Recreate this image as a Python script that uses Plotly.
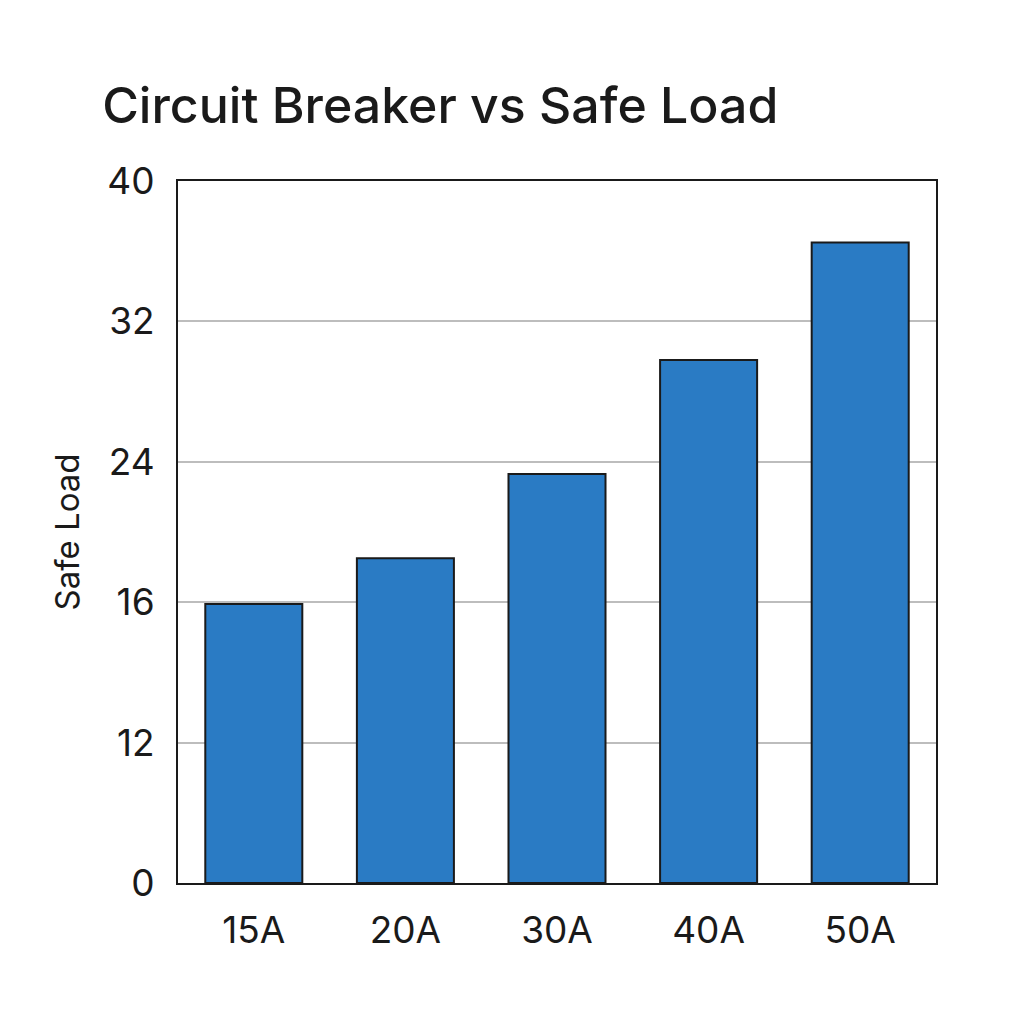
import plotly.graph_objects as go

# data
breakers = ["15A", "20A", "30A", "40A", "50A"]
safe_load = [15.9, 18.5, 23.3, 29.8, 36.5]
y_tick_vals = [0, 8, 16, 24, 32, 40]
y_tick_text = ["0", "12", "16", "24", "32", "40"]

fig = go.Figure(
    go.Bar(
        x=breakers,
        y=safe_load,
        width=0.64,
        marker=dict(color="#2A7BC4", line=dict(color="#1a1a1a", width=2)),
    )
)

fig.update_layout(
    width=1024,
    height=1024,
    paper_bgcolor="white",
    plot_bgcolor="white",
    font=dict(family="Inter, Noto Sans, sans-serif", color="#1a1a1a"),
    title=dict(
        text="Circuit Breaker vs Safe Load",
        x=0.092, xanchor="left", y=0.905, yanchor="middle",
        font=dict(size=50, family="Inter, Noto Sans, sans-serif", weight=500),
    ),
    margin=dict(l=170, r=96, t=173, b=149),
    showlegend=False,
)
fig.update_xaxes(
    showline=True, mirror=True, linecolor="#1a1a1a", linewidth=2,
    tickfont=dict(size=37), ticks="", ticklabelstandoff=14,
)
fig.update_yaxes(
    range=[0, 40], tickvals=y_tick_vals, ticktext=y_tick_text,
    showline=True, mirror=True, linecolor="#1a1a1a", linewidth=2,
    showgrid=True, gridcolor="#bdbdbd", gridwidth=1.5,
    tickfont=dict(size=37), ticks="", ticklabelstandoff=14,
    title=dict(text="Safe Load", font=dict(size=33), standoff=18),
    zeroline=False,
)

fig.write_html("out.html")
